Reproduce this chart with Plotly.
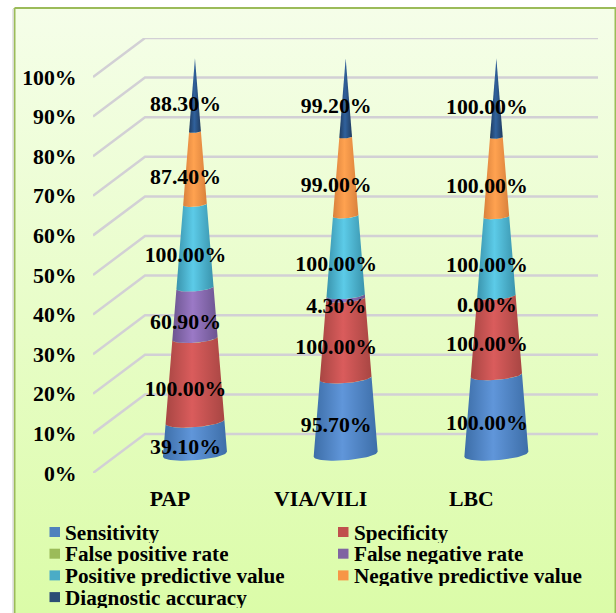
import plotly.graph_objects as go
import numpy as np

categories = ["PAP", "VIA/VILI", "LBC"]
series_names = ["Sensitivity", "Specificity", "False positive rate", "False negative rate",
                "Positive predictive value", "Negative predictive value", "Diagnostic accuracy"]
sensitivity = [39.1, 95.7, 100.0]
specificity = [100.0, 100.0, 100.0]
false_positive = [0.0, 0.0, 0.0]
false_negative = [60.9, 4.3, 0.0]
ppv = [100.0, 100.0, 100.0]
npv = [87.4, 99.0, 100.0]
accuracy = [88.3, 99.2, 100.0]
all_series = [sensitivity, specificity, false_positive, false_negative, ppv, npv, accuracy]
y_ticks = list(range(0, 101, 10))

swatch = ["#4f81bd", "#c0504d", "#9bbb59", "#8064a2", "#4bacc6", "#f79646", "#2c4d75"]
light = ["#6096da", "#da5c5c", "#a9cc68", "#9b79c6", "#5ccbe8", "#ffa250", "#30619c"]
dark = ["#3d6ea8", "#a84643", "#84a04a", "#6c5590", "#3a94ad", "#d9813c", "#203c60"]

W, H = 616, 613
L, R, B, T = 93, 598, 473, 38            # plot box in pixels
UX = 150.7                                # pixels per category
UY = 3.96                                 # pixels per percent
DX, DY = 52 / UX, 39 / UY                 # wall depth in axis units
X_LO = -(170 - L) / UX
X_HI = (R - 170) / UX
CONE_D, LABEL_D = 0.48, 0.27
CONE_R = 32 / UX
CONE_B = 6.0 / UY
CONE_TILT = 2.5 / UY
LABEL_DROP = 2 / UY
LABEL_SHIFT = 1.5 / UX
FONT = "Liberation Serif"
TEXT_SIZE = 21.8

fig = go.Figure()

fig.add_trace(go.Scatter(
    x=[14.5, 615.5, 615.5, 14.5, 14.5], y=[H - 8, H - 8, -10, -10, H - 8],
    mode="lines", line=dict(color="#9bbb59", width=2), fill="toself",
    fillgradient=dict(type="vertical", start=H - 8, stop=0,
                      colorscale=[[0, "#f5fee9"], [1, "#dbfca8"]]),
    hoverinfo="skip", showlegend=False, xaxis="x", yaxis="y"))
fig.add_trace(go.Scatter(x=[13, 13], y=[H - 9, 0], mode="lines",
                         line=dict(color="#dddddd", width=1.5),
                         hoverinfo="skip", showlegend=False, xaxis="x", yaxis="y"))

for v in y_ticks:
    fig.add_trace(go.Scatter(
        x=[X_LO, X_LO + DX, X_HI], y=[v, v + DY, v + DY], mode="lines",
        line=dict(color="#d2d0d5", width=2.5), hoverinfo="skip", showlegend=False,
        xaxis="x2", yaxis="y2"))

theta = np.linspace(np.pi, 2 * np.pi, 41)
CONE_DY = CONE_D * DY


def arc(cx, frac):
    k = 1 - frac
    x = cx + CONE_R * k * np.cos(theta)
    y = CONE_DY + 100 * frac - CONE_B * k * np.abs(np.sin(theta)) + CONE_TILT * k * np.cos(theta)
    return x, y


arr = np.array(all_series)
totals = arr.sum(axis=0)
cum = np.vstack([np.zeros(3), np.cumsum(arr, axis=0)]) / totals
for s, name in enumerate(series_names):
    for c in range(len(categories)):
        cx = c + CONE_D * DX
        x0, y0 = arc(cx, cum[s, c])
        x1, y1 = arc(cx, cum[s + 1, c])
        fig.add_trace(go.Scatter(
            x=np.r_[x0, x1[::-1], x0[0]], y=np.r_[y0, y1[::-1], y0[0]],
            mode="lines", line=dict(width=0), fill="toself",
            fillgradient=dict(type="horizontal", start=cx - CONE_R * (1 - cum[s, c]),
                              stop=cx + CONE_R * (1 - cum[s, c]),
                              colorscale=[[0, dark[s]], [0.45, light[s]], [1, dark[s]]]),
            name=name, hoverinfo="name", showlegend=False, xaxis="x2", yaxis="y2"))

for s, name in enumerate(series_names):
    if name == "False positive rate":
        continue
    lx = [c + LABEL_D * DX + LABEL_SHIFT for c in range(3)]
    ly = [LABEL_D * DY - LABEL_DROP + 50 * (cum[s, c] + cum[s + 1, c]) for c in range(3)]
    fig.add_trace(go.Scatter(
        x=lx, y=ly, mode="text", text=[f"{v:.2f}%" for v in all_series[s]],
        textposition="middle center", cliponaxis=False,
        textfont=dict(family=FONT, size=TEXT_SIZE, color="black", weight=700),
        hoverinfo="skip", showlegend=False, xaxis="x2", yaxis="y2"))

annotations, shapes = [], []
for i, name in enumerate(series_names):
    col, row = i % 2, i // 2
    sx = 49.5 + col * 288.5
    sy = 532 + row * 21.7
    shapes.append(dict(type="rect", xref="paper", yref="paper", line_width=0,
                       fillcolor=swatch[i], x0=sx / W, x1=(sx + 10.5) / W,
                       y0=1 - (sy + 5) / H, y1=1 - (sy - 5) / H))
    annotations.append(dict(xref="paper", yref="paper", x=(sx + 13.5) / W, y=1 - sy / H,
                            xanchor="left", yanchor="middle", showarrow=False, text=name,
                            height=21, valign="middle",
                            font=dict(family=FONT, size=21.2, color="black", weight=700)))

fig.update_layout(
    width=W, height=H, margin=dict(l=0, r=0, t=0, b=0, autoexpand=False), autosize=False,
    paper_bgcolor="white", plot_bgcolor="rgba(0,0,0,0)", showlegend=False,
    annotations=annotations, shapes=shapes,
    xaxis=dict(domain=[0, 1], range=[0, W], visible=False, fixedrange=True, automargin=False),
    yaxis=dict(domain=[0, 1], range=[0, H], visible=False, fixedrange=True, automargin=False),
    xaxis2=dict(domain=[L / W, R / W], range=[X_LO, X_HI], anchor="y2", automargin=False,
                tickvals=[0, 1, 2], ticktext=categories, showgrid=False, zeroline=False,
                showline=False, ticks="outside", ticklen=6, tickcolor="rgba(0,0,0,0)",
                tickfont=dict(family=FONT, size=TEXT_SIZE, color="black", weight=700), fixedrange=True),
    yaxis2=dict(domain=[(H - B) / H, (H - T) / H], range=[0, 100 + DY], anchor="x2", automargin=False,
                tickvals=y_ticks, ticktext=[f"{v}%" for v in y_ticks], showgrid=False,
                zeroline=False, showline=False, ticks="outside", ticklen=11,
                tickcolor="rgba(0,0,0,0)",
                tickfont=dict(family=FONT, size=TEXT_SIZE, color="black", weight=700), fixedrange=True),
)

fig.write_html("out.html", config=dict(displayModeBar=False),
               post_script="document.body.style.margin='0';document.body.style.overflow='hidden';")
